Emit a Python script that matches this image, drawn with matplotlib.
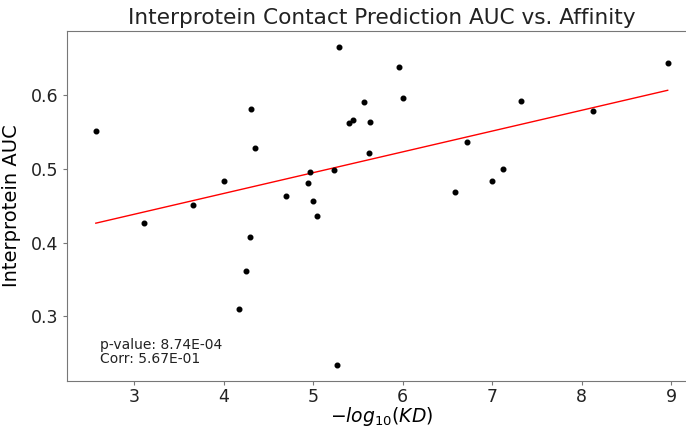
import numpy as np
import matplotlib
matplotlib.use("Agg")
import matplotlib.pyplot as plt

# -log10(KD) and interprotein contact AUC
neg_log_kd = [2.571, 5.284, 4.310, 4.355, 5.568, 5.396, 5.445, 5.639, 5.620,
              4.000, 3.661, 5.236, 4.967, 4.937, 4.695, 5.000, 5.046,
              5.960, 6.005, 8.961, 7.322, 8.129, 6.721, 7.124, 7.000, 6.587,
              3.112, 4.299, 4.251, 4.168, 5.266]
auc = [0.552, 0.666, 0.581, 0.528, 0.591, 0.563, 0.567, 0.564, 0.521,
       0.483, 0.451, 0.498, 0.496, 0.481, 0.463, 0.457, 0.436,
       0.638, 0.597, 0.644, 0.592, 0.579, 0.536, 0.500, 0.483, 0.468,
       0.426, 0.407, 0.361, 0.309, 0.233]

p_value = 8.74e-04
corr = 5.67e-01

x = np.array(neg_log_kd)
y = np.array(auc)

fig = plt.figure(figsize=(6.86, 4.28), dpi=100)
ax = fig.add_axes([0.098, 0.109, 0.917, 0.819])

ax.scatter(x, y, s=11, color='black', zorder=3)

slope, intercept = np.polyfit(x, y, 1)
xs = np.array([x.min(), x.max()])
ax.plot(xs, slope * xs + intercept, color='red', linewidth=1)

ax.text(0.052, 0.045, f"p-value: {p_value:.2E}\nCorr: {corr:.2E}",
        transform=ax.transAxes, fontsize=10, color='#222222',
        ha='left', va='bottom', linespacing=1.0)

ax.set_title("Interprotein Contact Prediction AUC vs. Affinity", fontsize=15.6,
             color='#222222', pad=5)
ax.set_xlabel(r"$-log_{10}(KD)$", fontsize=13.5, labelpad=-1)
ax.set_ylabel("Interprotein AUC", fontsize=14, labelpad=7)
ax.set_yticks([0.3, 0.4, 0.5, 0.6])
ax.tick_params(labelsize=12.5, colors='#222222', length=3)
ax.tick_params(axis='x', pad=2)
for sp in ax.spines.values():
    sp.set_color('#777777')
ax.tick_params(color='#777777')

fig.savefig("out.png", dpi=100)
